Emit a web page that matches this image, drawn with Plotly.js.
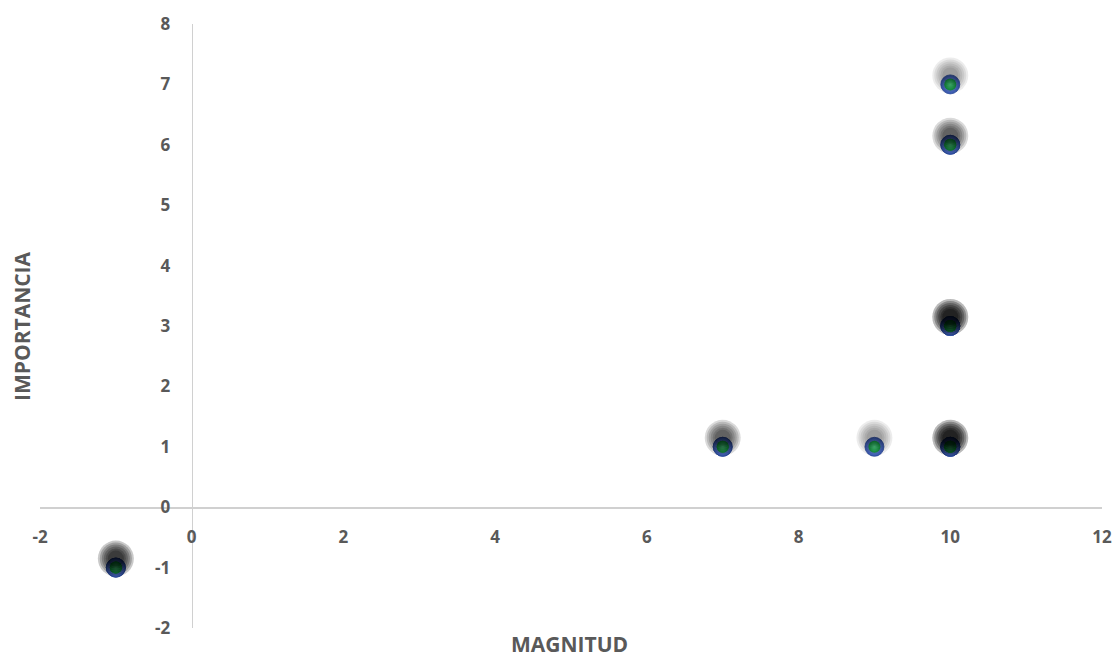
<!DOCTYPE html>
<html><head><meta charset="utf-8">
<script src="https://cdn.plot.ly/plotly-3.0.1.min.js"></script>
<style>html,body{margin:0;padding:0;background:#fff}#c{width:1116px;height:657px}</style>
</head><body><div id="c"></div>
<script>
// Data (duplicates represent overlapping observations)
const magnitud    = [-1, -1, -1, 7, 7, 9, 10, 10, 10, 10, 10, 10, 10, 10, 10, 10, 10];
const importancia = [-1, -1, -1, 1, 1, 1, 1, 1, 1, 1, 3, 3, 3, 3, 6, 6, 7];
const xTicks = [-2, 0, 2, 4, 6, 8, 10, 12];
const yTicks = [-2, -1, 0, 1, 2, 3, 4, 5, 6, 7, 8];
const xTitle = 'MAGNITUD';
const yTitle = 'IMPORTANCIA';

const xRange = [-2, 12], yRange = [-2, 8];
const plotH = 604;
const shadowShift = 9 / plotH * (yRange[1] - yRange[0]);

const tickFont = {family: 'Open Sans, sans-serif', size: 17, color: '#595959', weight: 700};
const titleFont = {family: 'Open Sans, sans-serif', size: 21, color: '#595959', weight: 700};

const traces = [];
// soft shadow: concentric translucent discs on a slightly shifted overlay axis
[36, 32, 28, 24, 20, 16].forEach(s => {
  traces.push({
    x: magnitud, y: importancia, yaxis: 'y2', type: 'scatter', mode: 'markers',
    hoverinfo: 'skip', showlegend: false,
    marker: {size: s, color: 'rgba(0,0,0,0.075)', line: {width: 0}}
  });
});
// sphere: blue shell (gradient.color = centre colour for radial)
traces.push({
  x: magnitud, y: importancia, type: 'scatter', mode: 'markers', showlegend: false,
  marker: {size: 19, color: '#3658b8', line: {width: 0.8, color: '#2f4c9c'},
           gradient: {type: 'radial', color: '#9ab8f6'}}
});
// sphere: green core
traces.push({
  x: magnitud, y: importancia, type: 'scatter', mode: 'markers', showlegend: false,
  hoverinfo: 'skip',
  marker: {size: 12, color: '#129c40', line: {width: 0},
           gradient: {type: 'radial', color: '#5cf09a'}}
});

const layout = {
  width: 1116, height: 657,
  margin: {l: 40, r: 14, t: 24, b: 29},
  paper_bgcolor: '#fff', plot_bgcolor: '#fff',
  showlegend: false,
  xaxis: {range: xRange, tickvals: xTicks, ticktext: xTicks.map(String),
          anchor: 'free', position: (0 - yRange[0]) / (yRange[1] - yRange[0]),
          showgrid: false, zeroline: false, showline: true, linecolor: '#d0d0d0', linewidth: 1.5,
          ticks: '', ticklabelstandoff: 14, tickfont: tickFont, fixedrange: true},
  yaxis: {range: yRange, tickvals: yTicks, ticktext: yTicks.map(String),
          anchor: 'free', position: (0 - xRange[0]) / (xRange[1] - xRange[0]),
          showgrid: false, zeroline: false, showline: true, linecolor: '#d0d0d0', linewidth: 1.5,
          ticks: '', ticklabelstandoff: 18, tickfont: tickFont, fixedrange: true},
  yaxis2: {range: [yRange[0] - shadowShift, yRange[1] - shadowShift], overlaying: 'y',
           visible: false, fixedrange: true},
  annotations: [
    {text: xTitle, xref: 'paper', yref: 'paper', x: 0.499, y: 0, yanchor: 'middle', yshift: -16,
     showarrow: false, font: titleFont},
    {text: yTitle, xref: 'paper', yref: 'paper', x: 0, y: 0.5, xanchor: 'center', xshift: -18,
     textangle: -90, showarrow: false, font: titleFont}
  ]
};

Plotly.newPlot('c', traces, layout, {displayModeBar: false, staticPlot: true});
</script>
</body></html>
